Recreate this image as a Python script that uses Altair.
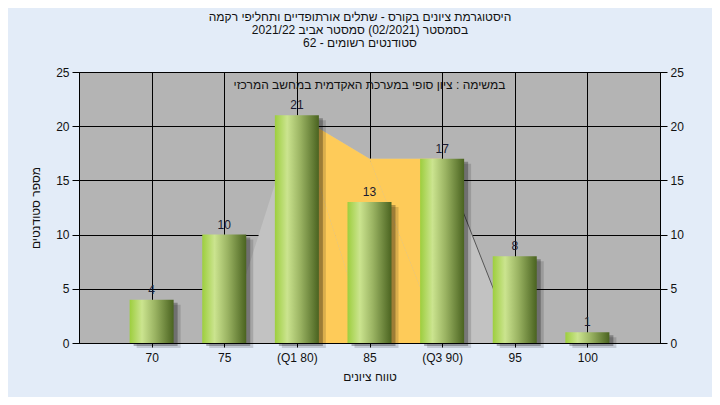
import altair as alt
import pandas as pd

categories = ["70", "75", "(Q1 80)", "85", "(Q3 90)", "95", "100"]
counts = [4, 10, 21, 13, 17, 8, 1]

area_cats = ["75", "(Q1 80)", "85", "(Q3 90)", "95"]
area_vals = [0, 21, 17, 17, 0]
iqr_cats = ["(Q1 80)", "85", "(Q3 90)"]
iqr_vals = [21, 17, 17]
edge_cats = ["(Q3 90)", "95"]
edge_vals = [17, 0]

title_lines = [
    "היסטוגרמת ציונים בקורס - שתלים אורתופדיים ותחליפי רקמה",
    "בסמסטר  (02/2021)  סמסטר אביב 2021/22",
    "סטודנטים רשומים - 62",
]
note_text = "במשימה : ציון סופי במערכת האקדמית במחשב המרכזי"
x_title = "טווח ציונים"
y_title = "מספר סטודנטים"
y_ticks = [0, 5, 10, 15, 20, 25]

FONT = "Liberation Sans"
TXT = "#111111"

bars_df = pd.DataFrame({"cat": categories, "v": counts})
area_df = pd.DataFrame({"cat": area_cats, "v": area_vals, "i": range(len(area_cats))})
iqr_df = pd.DataFrame({"cat": iqr_cats, "v": iqr_vals, "i": range(len(iqr_cats))})
edge_df = pd.DataFrame({"cat": edge_cats, "v": edge_vals, "i": range(len(edge_cats))})
note_df = pd.DataFrame({"t": [note_text]})

xscale = alt.Scale(type="point", domain=categories, padding=1)
yscale = alt.Scale(domain=[0, 25], nice=False)

x_axis = alt.Axis(
    title=x_title, grid=True, gridColor="black", gridWidth=1,
    domainColor="black", tickColor="black", tickSize=4,
    labelFont=FONT, labelFontSize=12, labelColor=TXT, labelPadding=5, labelAngle=0,
    titleFont=FONT, titleFontSize=12, titleFontWeight="normal", titleColor=TXT, titlePadding=8,
)
y_axis = alt.Axis(
    title=y_title, values=y_ticks, grid=True, gridColor="black", gridWidth=1,
    domainColor="black", tickColor="black", tickSize=7,
    labelFont=FONT, labelFontSize=12, labelColor=TXT, labelPadding=3,
    titleFont=FONT, titleFontSize=12, titleFontWeight="normal", titleColor=TXT, titlePadding=13,
)
y_axis_r = alt.Axis(
    title=None, values=y_ticks, grid=False, orient="right",
    domainColor="black", tickColor="black", tickSize=7,
    labelFont=FONT, labelFontSize=12, labelColor=TXT, labelPadding=3,
)

X = alt.X("cat:O", scale=xscale, axis=x_axis, sort=categories)
Y = alt.Y("v:Q", scale=yscale, axis=y_axis)

gray_area = alt.Chart(area_df).mark_area(color="#c2c2c2").encode(
    x=X, y=Y, order=alt.Order("i:Q"))
yellow_area = alt.Chart(iqr_df).mark_area(color="#fecb59").encode(
    x=X, y=Y, order=alt.Order("i:Q"))
edge_line = alt.Chart(edge_df).mark_line(color="#555555", strokeWidth=1).encode(
    x=X, y=Y, order=alt.Order("i:Q"))

shadow1 = alt.Chart(bars_df).mark_bar(size=44, color="#000000", opacity=0.14,
                                      xOffset=7, yOffset=5).encode(x=X, y=Y)
shadow2 = alt.Chart(bars_df).mark_bar(size=44, color="#000000", opacity=0.28,
                                      xOffset=4, yOffset=3).encode(x=X, y=Y)

grad = alt.Gradient(
    gradient="linear", x1=0, x2=1, y1=0, y2=0,
    stops=[
        alt.GradientStop(color="#9dce3e", offset=0),
        alt.GradientStop(color="#cbe48f", offset=0.28),
        alt.GradientStop(color="#9ab362", offset=0.58),
        alt.GradientStop(color="#4a6320", offset=1),
    ],
)
bars = alt.Chart(bars_df).mark_bar(size=44, color=grad).encode(x=X, y=Y)

labels = alt.Chart(bars_df).mark_text(
    font=FONT, fontSize=12, color="#1a1a30", dy=-10, baseline="middle"
).encode(x=X, y=Y, text="v:Q")

note = alt.Chart(note_df).mark_text(
    font=FONT, fontSize=12, color=TXT, baseline="middle", align="center"
).encode(x=alt.value(290.5), y=alt.value(13), text="t:N")

right_axis = alt.Chart(bars_df).mark_bar(opacity=0, size=1).encode(
    x=X, y=alt.Y("v:Q", scale=yscale, axis=y_axis_r))

left = alt.layer(gray_area, yellow_area, edge_line, shadow1, shadow2, bars, labels, note)

chart = alt.layer(left, right_axis).resolve_scale(y="shared").resolve_axis(y="independent").properties(
    width=581, height=271,
    autosize="none",
    padding={"left": 71, "top": 64, "right": 52, "bottom": 54},
    title=alt.TitleParams(
        text=title_lines, anchor="middle", dx=-9.5, offset=16,
        font=FONT, fontSize=12, fontWeight="normal", color=TXT, lineHeight=13,
    ),
).configure(background="#e3ecf8").configure_view(fill="#b4b4b4", stroke="black", strokeWidth=1)

chart.save("out.html", embed_options={"renderer": "svg", "actions": False})
